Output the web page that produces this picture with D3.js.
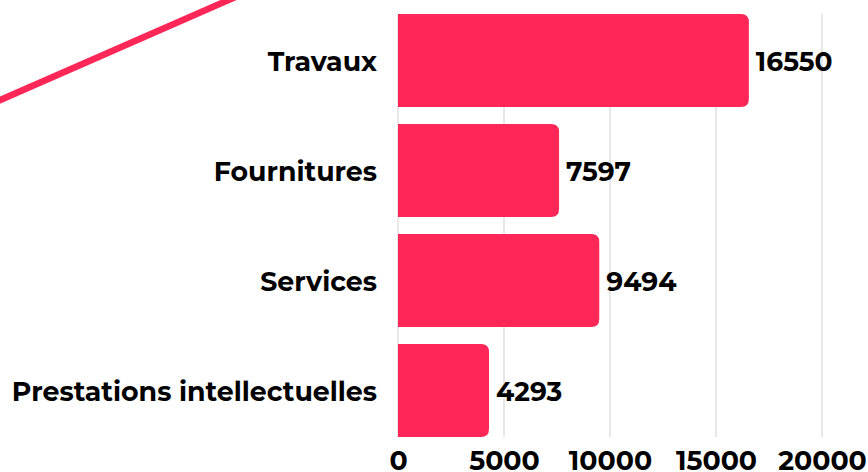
<!DOCTYPE html>
<html>
<head>
<meta charset="utf-8">
<script src="https://cdn.jsdelivr.net/npm/d3@7"></script>
<style>
  body { margin: 0; background: #fff; }
  text { font-family: Montserrat, "DejaVu Sans", sans-serif; font-weight: bold; fill: #000; }
</style>
</head>
<body>
<div id="chart"></div>
<script>
const categories = ["Travaux", "Fournitures", "Services", "Prestations intellectuelles"];
const values = [16550, 7597, 9494, 4293];
const ticks = [0, 5000, 10000, 15000, 20000];

const W = 868, H = 472;
const barColor = "#ff2757";

const svg = d3.select("#chart").append("svg")
  .attr("width", W).attr("height", H);

// decorative diagonal stroke top-left
svg.append("path")
  .attr("d", d3.line()([[-10, 104.5], [240, -5]]))
  .attr("stroke", barColor)
  .attr("stroke-width", 6.5)
  .attr("fill", "none");

const x = d3.scaleLinear().domain([0, 20000]).range([398, 822]);
const y = d3.scaleBand().domain(categories).range([14, 437])
  .paddingInner(0.155).paddingOuter(0);

// gridlines
svg.append("g").selectAll("line").data(ticks).join("line")
  .attr("x1", d => x(d)).attr("x2", d => x(d))
  .attr("y1", 14).attr("y2", 437)
  .attr("stroke", "#d0d0d0").attr("stroke-width", 1);

// bars: square left side, rounded right side
const r = 8;
svg.append("g").selectAll("path").data(values).join("path")
  .attr("d", (d, i) => {
    const x0 = x(0), x1 = x(d), y0 = y(categories[i]), h = y.bandwidth();
    return `M${x0},${y0}H${x1 - r}Q${x1},${y0} ${x1},${y0 + r}V${y0 + h - r}Q${x1},${y0 + h} ${x1 - r},${y0 + h}H${x0}Z`;
  })
  .attr("fill", barColor);

// value labels
svg.append("g").selectAll("text").data(values).join("text")
  .attr("x", d => x(d) + 7)
  .attr("y", (d, i) => y(categories[i]) + y.bandwidth() / 2)
  .attr("dy", "0.4em")
  .attr("font-size", 26.5)
  .text(d => d);

// category labels
svg.append("g")
  .attr("transform", "translate(398,0)")
  .call(d3.axisLeft(y).tickSize(0).tickPadding(21))
  .call(g => g.select(".domain").remove())
  .selectAll("text")
  .attr("dy", "0.4em")
  .attr("font-size", 26.8);

// x axis labels
svg.append("g")
  .attr("transform", "translate(0,437)")
  .call(d3.axisBottom(x).tickValues(ticks).tickSize(0).tickPadding(14).tickFormat(d3.format("d")))
  .call(g => g.select(".domain").remove())
  .selectAll("text")
  .attr("font-size", 26.8);
</script>
</body>
</html>
